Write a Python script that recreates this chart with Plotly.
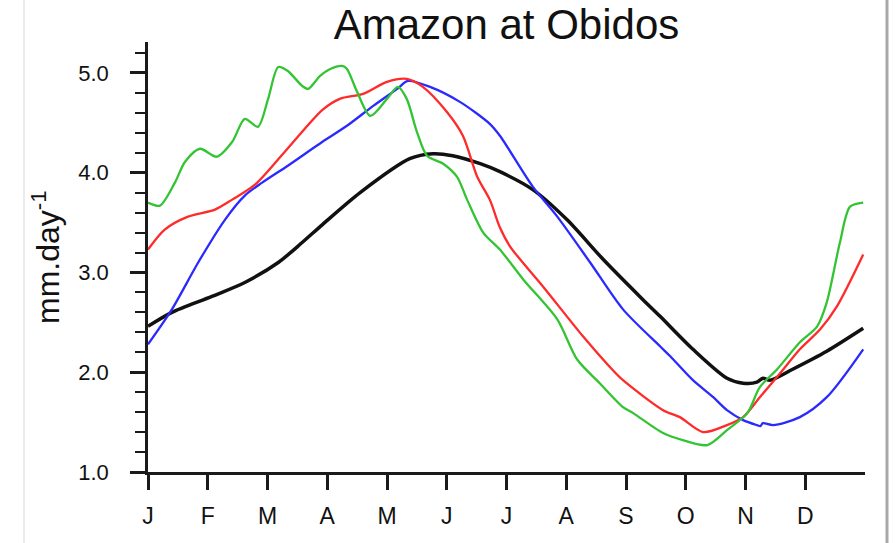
import plotly.graph_objects as go

# ---- data (x in months since 1 Jan, y in mm/day) ----
month_labels = ["J", "F", "M", "A", "M", "J", "J", "A", "S", "O", "N", "D"]
month_ticks = list(range(12))

green_x = [0, 0.2, 0.45, 0.62, 0.87, 1.15, 1.41, 1.62, 1.84, 2.01, 2.18, 2.34, 2.58, 2.68,
           2.88, 3.05, 3.25, 3.33, 3.50, 3.72, 4.0, 4.18, 4.33, 4.50, 4.67, 4.94, 5.17,
           5.34, 5.61, 5.89, 6.28, 6.85, 7.18, 7.56, 7.95, 8.12, 8.62, 8.95, 9.36, 9.69,
           10.03, 10.24, 10.53, 10.91, 11.20, 11.36, 11.58, 11.75, 11.97]
green_y = [3.70, 3.67, 3.90, 4.11, 4.24, 4.16, 4.31, 4.54, 4.46, 4.74, 5.06, 5.02, 4.87, 4.84,
           4.97, 5.04, 5.07, 5.04, 4.81, 4.57, 4.74, 4.86, 4.74, 4.41, 4.17, 4.09, 3.96,
           3.73, 3.40, 3.23, 2.93, 2.53, 2.13, 1.89, 1.65, 1.59, 1.39, 1.32, 1.27, 1.42,
           1.59, 1.85, 2.03, 2.30, 2.46, 2.70, 3.30, 3.66, 3.70]

red_x = [0, 0.28, 0.67, 1.12, 1.41, 1.79, 2.29, 2.92, 3.21, 3.60, 4.0, 4.33, 4.60, 5.0,
         5.27, 5.51, 5.72, 5.89, 6.06, 6.61, 7.28, 7.78, 7.95, 8.62, 8.90, 9.29, 9.69,
         9.96, 10.24, 10.58, 10.91, 11.25, 11.53, 11.97]
red_y = [3.23, 3.43, 3.56, 3.63, 3.73, 3.88, 4.21, 4.63, 4.74, 4.79, 4.91, 4.94, 4.86, 4.61,
         4.37, 3.96, 3.73, 3.45, 3.26, 2.86, 2.36, 2.02, 1.92, 1.62, 1.55, 1.40, 1.47,
         1.55, 1.75, 1.99, 2.23, 2.43, 2.66, 3.18]

blue_x = [0, 0.40, 0.84, 1.29, 1.62, 1.91, 2.34, 2.92, 3.33, 3.77, 4.17, 4.35, 4.72, 5.22,
          5.72, 5.89, 6.44, 6.85, 7.40, 7.95, 8.57, 8.74, 9.12, 9.46, 9.69, 9.96, 10.19,
          10.25, 10.29, 10.46, 10.91, 11.36, 11.97]
blue_y = [2.28, 2.63, 3.10, 3.53, 3.77, 3.90, 4.07, 4.31, 4.47, 4.67, 4.84, 4.92, 4.86, 4.71,
          4.49, 4.37, 3.86, 3.56, 3.10, 2.63, 2.26, 2.16, 1.92, 1.75, 1.62, 1.52, 1.47,
          1.46, 1.49, 1.47, 1.55, 1.75, 2.23]

black_x = [0, 0.40, 1.07, 1.62, 2.18, 2.58, 2.92, 3.55, 4.38, 4.77, 5.10, 5.56, 5.89, 6.44,
           7.01, 7.62, 8.28, 8.57, 9.12, 9.69, 9.96, 10.19, 10.29, 10.41, 10.79, 11.36, 11.97]
black_y = [2.46, 2.60, 2.76, 2.90, 3.10, 3.30, 3.48, 3.80, 4.14, 4.19, 4.17, 4.09, 4.01, 3.83,
           3.53, 3.13, 2.73, 2.56, 2.23, 1.94, 1.89, 1.90, 1.94, 1.92, 2.03, 2.21, 2.44]

y_major = [1.0, 2.0, 3.0, 4.0, 5.0]

FONT = "Liberation Sans, Arial, Helvetica, sans-serif"

fig = go.Figure()
series = [
    (black_x, black_y, "#111111", 3.5, "black"),
    (blue_x, blue_y, "#2a2aff", 2.3, "blue"),
    (red_x, red_y, "#ff2a2a", 2.3, "red"),
    (green_x, green_y, "#33c433", 2.3, "green"),
]
for xs, ys, col, w, name in series:
    fig.add_trace(go.Scatter(x=xs, y=ys, mode="lines", name=name,
                             line=dict(color=col, width=w, shape="spline", smoothing=0.8),
                             hoverinfo="skip"))

fig.update_layout(
    width=895, height=543,
    margin=dict(l=148, r=30, t=42, b=71),
    paper_bgcolor="white", plot_bgcolor="white",
    showlegend=False,
    font=dict(family=FONT, color="#111111"),
    title=dict(text="Amazon at Obidos", x=0.5, xref="paper", xanchor="center",
               y=1 - 24 / 543, yref="container", yanchor="middle",
               font=dict(family=FONT, size=42, color="#111111")),
)
fig.update_xaxes(
    range=[0, 12], showgrid=False, zeroline=False,
    showline=True, linewidth=2.5, linecolor="#1a1a1a",
    tickmode="array", tickvals=month_ticks, ticktext=month_labels,
    ticks="outside", ticklen=15, tickwidth=2.5, tickcolor="#1a1a1a",
    tickfont=dict(family=FONT, size=23, color="#111111"),
    ticklabelstandoff=7,
)
fig.update_yaxes(
    range=[1.0, 5.31], showgrid=False, zeroline=False,
    showline=True, linewidth=2.5, linecolor="#1a1a1a",
    tickmode="array", tickvals=y_major, ticktext=[f"{v:.1f}" for v in y_major],
    ticks="outside", ticklen=15, tickwidth=2.5, tickcolor="#1a1a1a",
    tickfont=dict(family=FONT, size=22, color="#111111"),
    ticklabelstandoff=17,
    minor=dict(tickmode="linear", tick0=1.0, dtick=0.2, ticks="outside",
               ticklen=10, tickwidth=2, tickcolor="#1a1a1a"),
)

fig.add_annotation(text="mm.day<sup>-1</sup>", textangle=-90,
                   xref="paper", yref="paper", x=(46 - 148) / 717, y=0.5,
                   xanchor="center", yanchor="middle", showarrow=False,
                   font=dict(family=FONT, size=32, color="#111111"))

# screenshot frame edges
fig.add_shape(type="line", xref="paper", yref="paper",
              x0=(887 - 148) / 717, x1=(887 - 148) / 717, y0=-71 / 430, y1=1 + 42 / 430,
              line=dict(color="#a8a8a8", width=3))
fig.add_shape(type="line", xref="paper", yref="paper",
              x0=(24 - 148) / 717, x1=(24 - 148) / 717, y0=-71 / 430, y1=1 + 42 / 430,
              line=dict(color="#ececec", width=2))

fig.write_html("out.html")
